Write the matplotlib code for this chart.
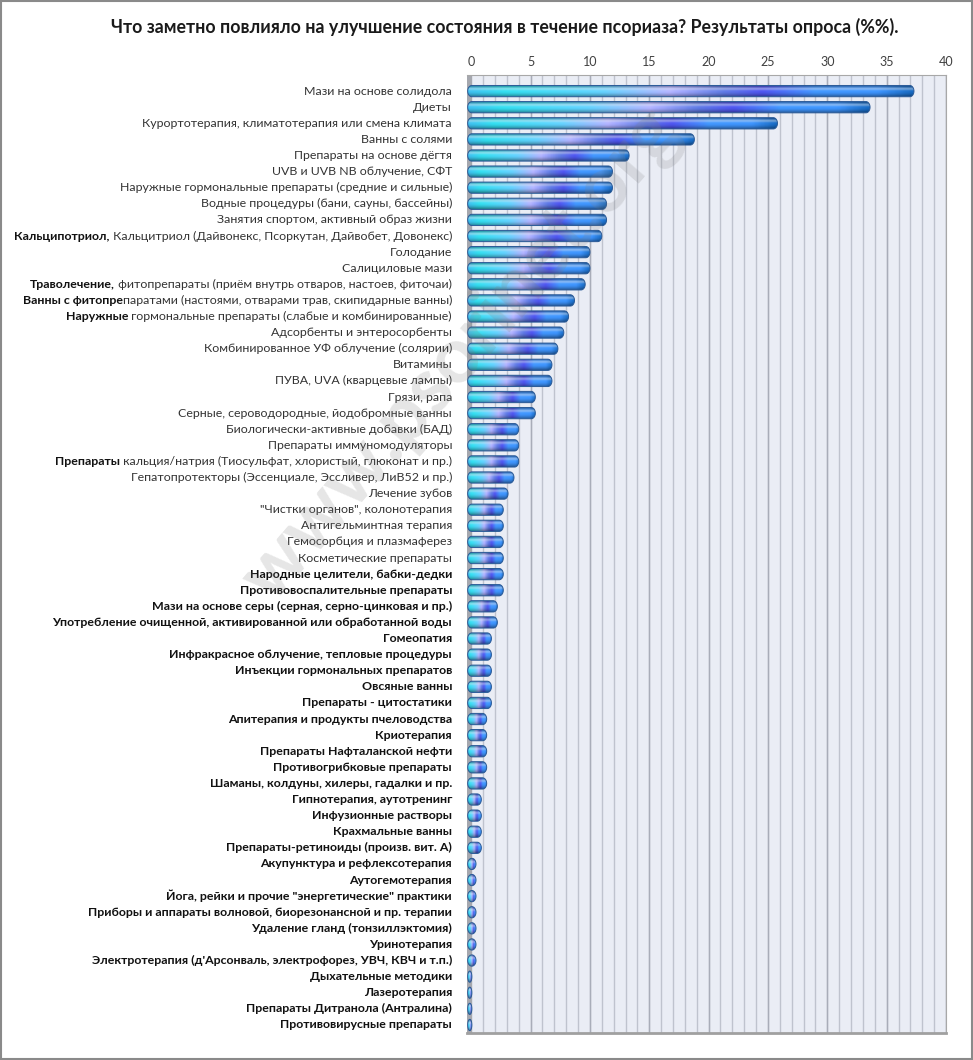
import numpy as np
import matplotlib
matplotlib.use("Agg")
import matplotlib.pyplot as plt
from matplotlib.colors import LinearSegmentedColormap
from matplotlib.path import Path
from matplotlib.patches import PathPatch, Rectangle

plt.rcParams['font.family'] = ['Lato', 'DejaVu Sans']

# Survey data -------------------------------------------------------------
labels = [
    "Мази на основе солидола",
    "Диеты",
    "Курортотерапия, климатотерапия или смена климата",
    "Ванны с солями",
    "Препараты на основе дёгтя",
    "UVB и UVB NB облучение, СФТ",
    "Наружные гормональные препараты (средние и сильные)",
    "Водные процедуры (бани, сауны, бассейны)",
    "Занятия спортом, активный образ жизни",
    "Кальципотриол, Кальцитриол (Дайвонекс, Псоркутан, Дайвобет, Довонекс)",
    "Голодание",
    "Салициловые мази",
    "Траволечение, фитопрепараты (приём внутрь отваров, настоев, фиточаи)",
    "Ванны с фитопрепаратами (настоями, отварами трав, скипидарные ванны)",
    "Наружные гормональные препараты (слабые и комбинированные)",
    "Адсорбенты и энтеросорбенты",
    "Комбинированное УФ облучение (солярии)",
    "Витамины",
    "ПУВА, UVA (кварцевые лампы)",
    "Грязи, рапа",
    "Серные, сероводородные, йодобромные ванны",
    "Биологически-активные добавки (БАД)",
    "Препараты иммуномодуляторы",
    "Препараты кальция/натрия (Тиосульфат, хлористый, глюконат и пр.)",
    "Гепатопротекторы (Эссенциале, Эссливер, ЛиВ52 и пр.)",
    "Лечение зубов",
    "\"Чистки органов\", колонотерапия",
    "Антигельминтная терапия",
    "Гемосорбция и плазмаферез",
    "Косметические препараты",
    "Народные целители, бабки-дедки",
    "Противовоспалительные препараты",
    "Мази на основе серы (серная, серно-цинковая и пр.)",
    "Употребление очищенной, активированной или обработанной воды",
    "Гомеопатия",
    "Инфракрасное облучение, тепловые процедуры",
    "Инъекции гормональных препаратов",
    "Овсяные ванны",
    "Препараты - цитостатики",
    "Апитерапия и продукты пчеловодства",
    "Криотерапия",
    "Препараты Нафталанской нефти",
    "Противогрибковые препараты",
    "Шаманы, колдуны, хилеры, гадалки и пр.",
    "Гипнотерапия, аутотренинг",
    "Инфузионные растворы",
    "Крахмальные ванны",
    "Препараты-ретиноиды (произв. вит. А)",
    "Акупунктура и рефлексотерапия",
    "Аутогемотерапия",
    "Йога, рейки и прочие \"энергетические\" практики",
    "Приборы и аппараты волновой, биорезонансной и пр. терапии",
    "Удаление гланд (тонзиллэктомия)",
    "Уринотерапия",
    "Электротерапия (д'Арсонваль, электрофорез, УВЧ, КВЧ и т.п.)",
    "Дыхательные методики",
    "Лазеротерапия",
    "Препараты Дитранола (Антралина)",
    "Противовирусные препараты",
]

values = [37.3, 33.6, 25.8, 18.8, 13.3, 11.9, 11.9, 11.4, 11.4, 11.0,
          10.0, 10.0, 9.6, 8.7, 8.2, 7.8, 7.3, 6.8, 6.8, 5.4,
          5.4, 4.0, 4.0, 4.0, 3.6, 3.1, 2.7, 2.7, 2.7, 2.7,
          2.7, 2.7, 2.2, 2.2, 1.7, 1.7, 1.7, 1.7, 1.7, 1.3,
          1.3, 1.3, 1.3, 1.3, 0.85, 0.85, 0.85, 0.85, 0.4, 0.4,
          0.4, 0.4, 0.4, 0.4, 0.4, 0.05, 0.05, 0.05, 0.05]

# labels from this index on are written in bold
bold_from = 30
# labels whose first words are bold
bold_head = {9: "Кальципотриол,", 12: "Траволечение,",
             13: "Ванны с фитопре", 14: "Наружные", 23: "Препараты"}

title = "Что заметно повлияло на улучшение состояния в течение псориаза? Результаты опроса (%%)."
xticks = [0, 5, 10, 15, 20, 25, 30, 35, 40]

# Figure ------------------------------------------------------------------
W, H = 973, 1060
fig = plt.figure(figsize=(W / 100, H / 100), dpi=100)
ax_l, ax_r, ax_t, ax_b = 466.5, 946, 75, 1033
ax = fig.add_axes([ax_l / W, 1 - ax_b / H, (ax_r - ax_l) / W, (ax_b - ax_t) / H])

x_min = -0.4
n = len(labels)
ax.set_xlim(x_min, 40)
ax.set_ylim(n - 0.5, -1.0)
ax.set_facecolor('#eaedf5')

# back wall grid
ax.vlines(np.arange(1, 41), -1.0, n - 0.5, color='#bfc3ce', lw=1.0, zorder=0)
ax.vlines(np.arange(5, 41, 5), -1.0, n - 0.5, color='#a9adb9', lw=1.0, zorder=0)
ax.add_patch(Rectangle((x_min, -1.0), -x_min, n + 0.5, color='#a5a7ae', zorder=1))

# bar colours along the length of each bar
bar_cmap = LinearSegmentedColormap.from_list('bars', [
    (0.00, '#3bb5e2'), (0.08, '#2fd2e2'), (0.30, '#5ec6f2'),
    (0.45, '#a9aaf5'), (0.57, '#5a74d8'), (0.66, '#4a4fe2'),
    (0.78, '#3e8ff2'), (0.92, '#3a8cf0'), (1.00, '#1563b6')])

ny, nx = 24, 160
u = np.linspace(0, 1, ny)[:, None]
shade = 0.62 + 0.45 * np.sin(np.pi * u)
glow = 0.4 * np.exp(-((u - 0.3) / 0.12) ** 2)
base = bar_cmap(np.linspace(0, 1, nx))[:, :3][None, :, :]
bar_img = np.clip(base * shade[..., None], 0, 1)
bar_img = bar_img * (1 - glow[..., None]) + glow[..., None]

bh = 0.7
rx = 0.35
x0 = -0.3
for i, v in enumerate(values):
    r = min(rx, (v - x0) / 2)
    t = np.linspace(-np.pi / 2, np.pi / 2, 30)
    right = np.column_stack([v - r + r * np.cos(t), i + bh / 2 * np.sin(t)])
    left = np.column_stack([x0 + r - r * np.cos(t[::-1]), i + bh / 2 * np.sin(t[::-1])])
    verts = np.vstack([right, left, right[:1]])
    clip = PathPatch(Path(verts), facecolor='none', edgecolor='#2a5a98', lw=0.7, zorder=4)
    ax.add_patch(clip)
    im = ax.imshow(bar_img, extent=[x0, v, i + bh / 2, i - bh / 2],
                   aspect='auto', interpolation='bilinear', zorder=3)
    im.set_clip_path(clip)

# axes frame
ax.spines['left'].set_visible(False)
ax.spines['top'].set_color('#a8a8a8')
ax.spines['right'].set_color('#a8a8a8')
ax.spines['bottom'].set_color('#a0a0a0')
ax.spines['bottom'].set_linewidth(2.0)

ax.xaxis.tick_top()
ax.set_xticks(xticks)
ax.set_xticklabels([str(x) for x in xticks])
ax.tick_params(axis='x', length=0, pad=5, labelsize=9, labelcolor='#404040')
ax.set_yticks([])

# category labels
trans = ax.get_yaxis_transform()
lx = -14.5 / (ax_r - ax_l)
fs = 8.9
for i, lab in enumerate(labels):
    if i >= bold_from:
        ax.text(lx, i, lab, transform=trans, ha='right', va='center',
                fontsize=fs, fontweight='bold', color='#111111')
    elif i in bold_head:
        head = bold_head[i]
        tail = lab[len(head):]
        t1 = ax.text(lx, i, tail, transform=trans, ha='right', va='center',
                     fontsize=fs, color='#333333')
        ax.annotate(head, xy=(0, 0.5), xycoords=t1, ha='right', va='center',
                    fontsize=fs, fontweight='bold', color='#111111')
    else:
        ax.text(lx, i, lab, transform=trans, ha='right', va='center',
                fontsize=fs, color='#333333')

fig.text(0.519, 1 - 27 / H, title, ha='center', va='center',
         fontsize=12.8, fontweight='bold', color='#1a1a1a')

# watermark
fig.text(0.473, 0.665, "www.psorinet.org", rotation=49, ha='center', va='center',
         fontsize=56, fontweight='bold', color='#808080', alpha=0.2, zorder=10)

fig.patches.append(Rectangle((0.001, 0.001), 0.998, 0.998, transform=fig.transFigure,
                             fill=False, edgecolor='#8a8a8a', lw=1.5))

fig.savefig("out.png", dpi=100)
